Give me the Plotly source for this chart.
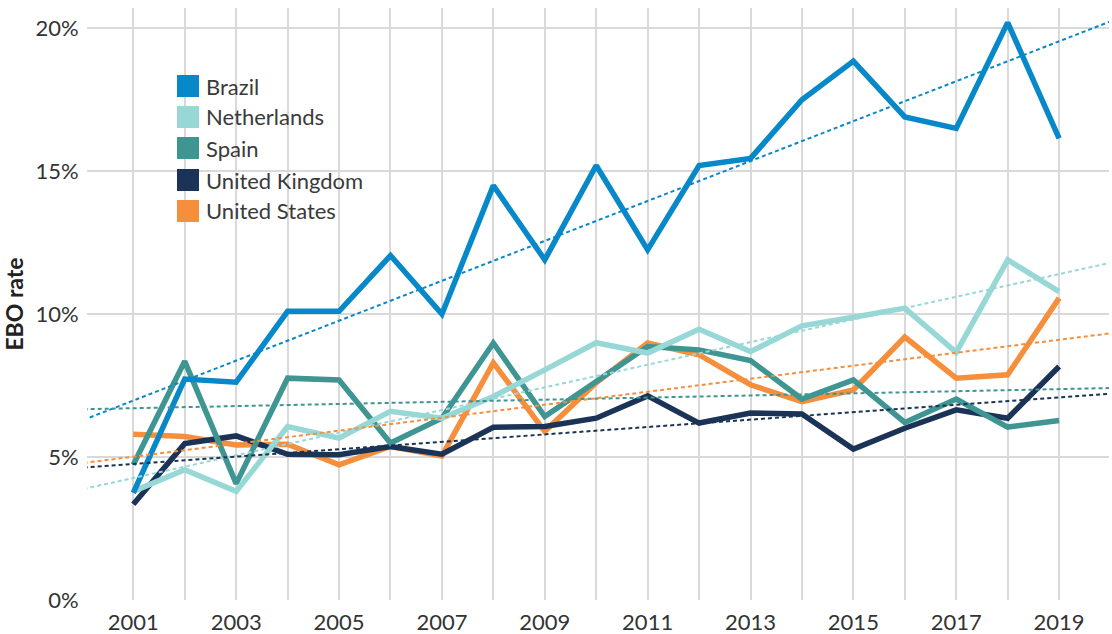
import numpy as np
import plotly.graph_objects as go

years = list(range(2001, 2020))

brazil = [3.75, 7.73, 7.62, 10.1, 10.1, 12.05, 10.0, 14.5, 11.9, 15.2, 12.25, 15.2,
          15.45, 17.5, 18.85, 16.9, 16.5, 20.2, 16.15]
netherlands = [3.8, 4.56, 3.8, 6.07, 5.66, 6.6, 6.36, 7.12, 8.05, 9.0, 8.64, 9.47,
               8.69, 9.59, 9.89, 10.21, 8.66, 11.9, 10.79]
spain = [4.73, 8.35, 4.07, 7.76, 7.7, 5.49, 6.36, 8.99, 6.42, 7.66, 8.87, 8.75,
         8.38, 7.03, 7.7, 6.21, 7.03, 6.05, 6.28]
united_kingdom = [3.35, 5.47, 5.74, 5.1, 5.08, 5.37, 5.1, 6.04, 6.07, 6.36, 7.14, 6.19,
                  6.54, 6.51, 5.28, 6.01, 6.65, 6.36, 8.17]
united_states = [5.8, 5.72, 5.42, 5.45, 4.73, 5.37, 5.04, 8.3, 5.9, 7.6, 8.99, 8.58,
                 7.53, 6.94, 7.35, 9.2, 7.76, 7.88, 10.56]

series_names = ["Brazil", "Netherlands", "Spain", "United Kingdom", "United States"]
series_values = [brazil, netherlands, spain, united_kingdom, united_states]
series_colors = ["#0788c8", "#97d8d6", "#3e9592", "#1b3356", "#f68f3b"]

y_ticks = [0, 5, 10, 15, 20]
y_tick_labels = ["0%", "5%", "10%", "15%", "20%"]
x_tick_labels = [str(y) if y % 2 == 1 else "" for y in years]

X_RANGE = [2000.1, 2019.97]
Y_RANGE = [0, 20.71]

W, H = 1112, 634
M = dict(l=87, r=3, t=8, b=34)
FONT = "Lato, 'Open Sans', sans-serif"
TEXT_SIZE = 22

fig = go.Figure()

# series lines: drawn last-to-first so Brazil sits on top
for name, vals, col in reversed(list(zip(series_names, series_values, series_colors))):
    fig.add_trace(go.Scatter(
        x=years, y=vals, mode="lines", name=name,
        line=dict(color=col, width=5.5), showlegend=False,
        hovertemplate="%{x}: %{y:.1f}%<extra>" + name + "</extra>",
    ))

# linear trend for each series, spanning the full x range
for name, vals, col in zip(series_names, series_values, series_colors):
    slope, intercept = np.polyfit(years, vals, 1)
    tx = [X_RANGE[0] - 0.2, X_RANGE[1] + 0.2]
    ty = [slope * x + intercept for x in tx]
    fig.add_trace(go.Scatter(
        x=tx, y=ty, mode="lines", showlegend=False, hoverinfo="skip",
        line=dict(color=col, width=2, dash="4px,3px"),
    ))

# legend box built from shapes and text (pixel positions converted to paper coords)
pw = W - M["l"] - M["r"]
ph = H - M["t"] - M["b"]


def px(xp):
    return (xp - M["l"]) / pw


def py(yp):
    return (H - M["b"] - yp) / ph


shapes = [dict(type="rect", xref="paper", yref="paper",
               x0=px(167), x1=px(371), y0=py(230), y1=py(65),
               fillcolor="white", line=dict(width=0), layer="between")]
annotations = []
row_y = [86, 117, 148, 180, 211]
for name, col, cy in zip(series_names, series_colors, row_y):
    shapes.append(dict(type="rect", xref="paper", yref="paper",
                       x0=px(177), x1=px(199), y0=py(cy + 11), y1=py(cy - 11),
                       fillcolor=col, line=dict(width=0), layer="above"))
    annotations.append(dict(xref="paper", yref="paper", x=px(204), y=py(cy),
                            text=name, showarrow=False, xanchor="left", yanchor="middle",
                            font=dict(family=FONT, size=TEXT_SIZE, color="#3a3a3a")))

fig.update_layout(
    width=W, height=H, margin=M,
    paper_bgcolor="white", plot_bgcolor="white",
    font=dict(family=FONT, size=TEXT_SIZE, color="#333333"),
    shapes=shapes, annotations=annotations,
    xaxis=dict(
        range=X_RANGE, tickmode="array", tickvals=years, ticktext=x_tick_labels,
        showgrid=True, gridcolor="#d9d9d9", gridwidth=1.5,
        zeroline=False, showline=False,
        ticks="outside", ticklen=3, tickcolor="rgba(0,0,0,0)",
        tickfont=dict(family=FONT, size=TEXT_SIZE, color="#333333"),
        automargin=False,
    ),
    yaxis=dict(
        range=Y_RANGE, tickmode="array", tickvals=y_ticks, ticktext=y_tick_labels,
        showgrid=True, gridcolor="#d9d9d9", gridwidth=1.5,
        zeroline=False, showline=False,
        ticks="outside", ticklen=3, tickcolor="rgba(0,0,0,0)",
        tickfont=dict(family=FONT, size=TEXT_SIZE, color="#333333"),
        title=dict(text="<b>EBO rate</b>", standoff=12,
                   font=dict(family=FONT, size=23, color="#222222")),
        automargin=False,
    ),
)

fig.write_html("out.html")
